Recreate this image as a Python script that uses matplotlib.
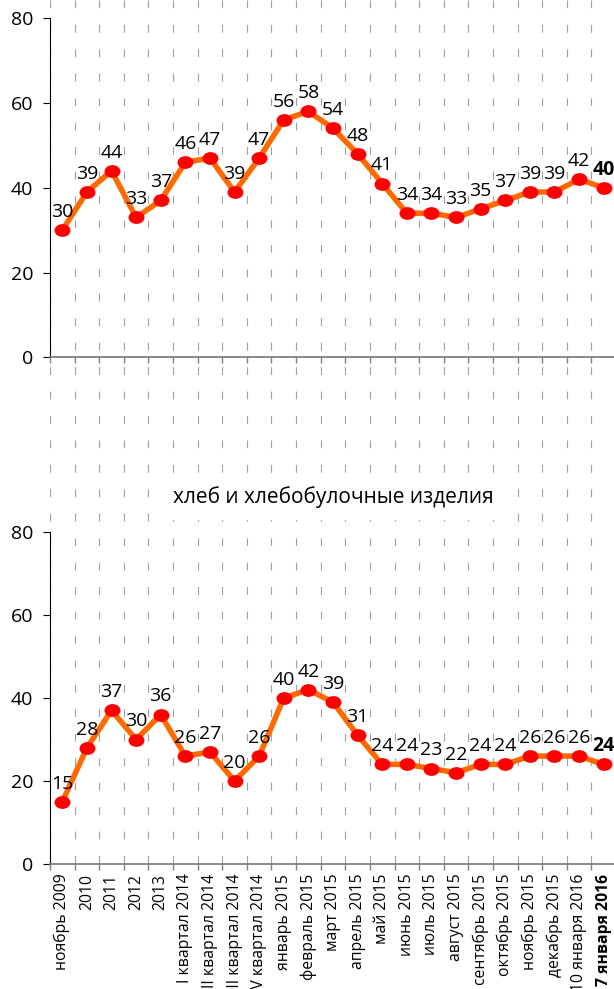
import numpy as np
import matplotlib
matplotlib.use("Agg")
import matplotlib.pyplot as plt
from matplotlib.path import Path

plt.rcParams['font.family'] = ['Open Sans', 'DejaVu Sans']

# периоды
periods = ["ноябрь 2009", "2010", "2011", "2012", "2013",
           "I квартал 2014", "II квартал 2014", "III квартал 2014", "IV квартал 2014",
           "январь 2015", "февраль 2015", "март 2015", "апрель 2015", "май 2015",
           "июнь 2015", "июль 2015", "август 2015", "сентябрь 2015", "октябрь 2015",
           "ноябрь 2015", "декабрь 2015", "10 января 2016", "17 января 2016"]

# верхняя панель (без подписи)
top_values = [30, 39, 44, 33, 37, 46, 47, 39, 47, 56, 58, 54, 48, 41,
              34, 34, 33, 35, 37, 39, 39, 42, 40]

# хлеб и хлебобулочные изделия
bread_values = [15, 28, 37, 30, 36, 26, 27, 20, 26, 40, 42, 39, 31, 24,
                24, 23, 22, 24, 24, 26, 26, 26, 24]
bread_title = "хлеб и хлебобулочные изделия"

W, H = 614, 989
fig = plt.figure(figsize=(W / 100, H / 100), dpi=100)

left = 50 / W
width = 566 / W
x = np.arange(len(periods))
xlim = (-0.5, len(periods) - 0.5)
bounds = np.arange(-0.5, len(periods), 1.0)

# фоновая сетка через всю картинку
bg_bottom = 1 - 864 / H
bg = fig.add_axes([left, bg_bottom, width, 1 - bg_bottom])
bg.set_xlim(*xlim)
bg.set_ylim(0, 1)
bg.axis('off')
for b in bounds:
    bg.plot([b, b], [1, 0], color='#a0a0a0', lw=0.8,
            dashes=(7, 15), solid_capstyle='butt', dash_capstyle='butt')

circ = Path.unit_circle()
ellipse = Path(circ.vertices * np.array([1.0, 0.8]), circ.codes)


def draw_panel(rect, values, show_labels):
    ax = fig.add_axes(rect)
    ax.set_facecolor('none')
    ax.plot(x, values, color='#ff6a00', lw=4, zorder=3)
    ax.plot(x, values, ls='none', marker=ellipse, markersize=11.5,
            color='#ff0000', markeredgewidth=0, zorder=4)
    for i, v in enumerate(values):
        last = i == len(values) - 1
        ax.annotate(str(v), (i, v), xytext=(0, 9.5), textcoords='offset points',
                    ha='center', va='baseline', fontsize=14,
                    fontweight='bold' if last else 'normal', zorder=5,
                    annotation_clip=False)
    ax.set_xlim(*xlim)
    ax.set_ylim(0, 80)
    ax.set_yticks([0, 20, 40, 60, 80])
    ax.tick_params(axis='y', direction='out', length=5, width=0.8,
                   color='black', labelsize=14, pad=7)
    ax.set_xticks(bounds)
    ax.set_xticklabels([])
    ax.tick_params(axis='x', which='major', direction='out', length=4.5,
                   width=1, color='#808080')
    ax.set_xticks(x, minor=True)
    if show_labels:
        ax.set_xticklabels(periods, minor=True, rotation=90, fontsize=11.3,
                           ha='center', va='top')
        ax.get_xticklabels(minor=True)[-1].set_fontweight('bold')
    else:
        ax.set_xticklabels([], minor=True)
    ax.tick_params(axis='x', which='minor', length=0, pad=7)
    for s in ('top', 'right'):
        ax.spines[s].set_visible(False)
    ax.spines['left'].set_color('black')
    ax.spines['left'].set_linewidth(0.8)
    ax.spines['bottom'].set_color('#808080')
    ax.spines['bottom'].set_linewidth(1.3)
    return ax


top_b = 1 - 357.5 / H
top_t = 1 - 18 / H
ax1 = draw_panel([left, top_b, width, top_t - top_b], top_values, False)

bot_b = 1 - 864 / H
bot_t = 1 - 532 / H
ax2 = draw_panel([left, bot_b, width, bot_t - bot_b], bread_values, True)

fig.text(left + width / 2, 1 - 497 / H, bread_title, ha='center', va='center',
         fontsize=15, zorder=10,
         bbox=dict(boxstyle='square,pad=0.6', fc='white', ec='none'))

fig.savefig("out.png", dpi=100)
